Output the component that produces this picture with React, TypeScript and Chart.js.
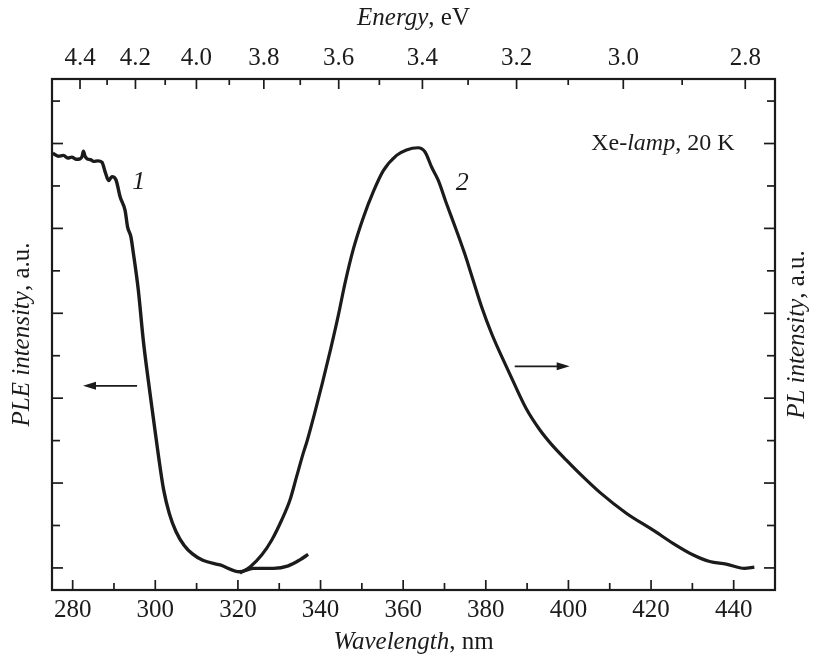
import React, { useEffect, useRef } from 'react';
import { Chart, registerables } from 'chart.js';

Chart.register(...registerables);

// ---------- data ----------
const pleWavelength = [
  275.2, 276.5, 277.8, 278.8, 279.8, 280.8, 281.8, 282.3, 282.6, 283.0, 283.5, 284.3, 285.1, 286.1, 287.1,
  287.9, 288.7, 289.5, 290.5, 291.5, 292.7, 293.3, 294.1, 294.6, 295.9, 297.1, 298.4, 299.6, 300.8, 302.0,
  303.4, 305.0, 307.0, 309.0, 311.5, 315.7, 320.4, 323.7, 328.6, 332.2, 335.0, 337.0,
];
const pleIntensity = [
  9.77, 9.70, 9.72, 9.66, 9.68, 9.63, 9.64, 9.70, 9.82, 9.70, 9.64, 9.62, 9.58, 9.59, 9.56,
  9.32, 9.13, 9.22, 9.14, 8.74, 8.42, 8.03, 7.80, 7.48, 6.54, 5.36, 4.35, 3.48, 2.62, 1.85,
  1.28, 0.86, 0.53, 0.33, 0.18, 0.07, -0.09, -0.01, -0.01, 0.05, 0.19, 0.32,
];

const plWavelength = [
  320.5, 323.0, 325.8, 328.2, 330.6, 332.6, 334.2, 335.8, 336.8, 338.5, 340.5, 342.5, 344.3, 345.9,
  347.9, 350.3, 352.8, 355.2, 358.4, 360.8, 363.6, 365.3, 366.9, 368.5, 370.5, 372.9, 374.9, 376.8,
  379.0, 381.5, 384.0, 386.6, 389.8, 393.1, 396.0, 399.5, 403.5, 407.6, 414.0, 420.5, 425.3, 430.1,
  434.2, 438.2, 442.6, 445.0,
];
const plIntensity = [
  -0.12, 0.03, 0.31, 0.66, 1.13, 1.60, 2.15, 2.70, 3.01, 3.62, 4.38, 5.18, 5.95, 6.70,
  7.50, 8.24, 8.87, 9.36, 9.72, 9.85, 9.90, 9.80, 9.44, 9.13, 8.58, 7.95, 7.40, 6.82,
  6.15, 5.50, 4.95, 4.40, 3.75, 3.25, 2.90, 2.54, 2.15, 1.78, 1.29, 0.89, 0.58, 0.31,
  0.15, 0.09, -0.01, 0.02,
];

const wavelengthTicks = [280, 300, 320, 340, 360, 380, 400, 420, 440];
const wavelengthMinorTicks = [290, 310, 330, 350, 370, 390, 410, 430];
const energyTicks = [4.4, 4.2, 4.0, 3.8, 3.6, 3.4, 3.2, 3.0, 2.8];
const energyMinorTicks = [4.3, 4.1, 3.9, 3.7, 3.5, 3.3, 3.1, 2.9];
const intensityTicks = [0, 2, 4, 6, 8, 10];
const intensityMinorTicks = [1, 3, 5, 7, 9, 11];

const HC = 1239.84; // eV*nm
const X_MIN = 275;
const X_MAX = 450;
const Y_MIN = -0.52;
const Y_MAX = 11.52;

const INK = '#1b1b1b';
const SERIF = "'Liberation Serif', 'Times New Roman', serif";
const TICK_FONT = 25;
const TITLE_FONT = 25;

type Part = [string, boolean];

function drawMixed(ctx: CanvasRenderingContext2D, parts: Part[], cx: number, cy: number, size: number, rotate = 0, align = 'center') {
  ctx.save();
  ctx.translate(cx, cy);
  if (rotate) ctx.rotate(rotate);
  let total = 0;
  const widths = parts.map(([t, it]) => {
    ctx.font = `${it ? 'italic ' : ''}${size}px ${SERIF}`;
    const w = ctx.measureText(t).width;
    total += w;
    return w;
  });
  let x = align === 'right' ? -total : -total / 2;
  ctx.textBaseline = 'middle';
  ctx.textAlign = 'left';
  ctx.fillStyle = INK;
  parts.forEach(([t, it], i) => {
    ctx.font = `${it ? 'italic ' : ''}${size}px ${SERIF}`;
    ctx.fillText(t, x, 0);
    x += widths[i];
  });
  ctx.restore();
}

function drawArrow(ctx: CanvasRenderingContext2D, x1: number, y1: number, x2: number, y2: number) {
  const dir = Math.sign(x2 - x1);
  ctx.save();
  ctx.strokeStyle = INK;
  ctx.fillStyle = INK;
  ctx.lineWidth = 1.6;
  ctx.beginPath();
  ctx.moveTo(x1, y1);
  ctx.lineTo(x2 - dir * 8, y2);
  ctx.stroke();
  ctx.beginPath();
  ctx.moveTo(x2, y2);
  ctx.lineTo(x2 - dir * 13, y2 - 4);
  ctx.lineTo(x2 - dir * 13, y2 + 4);
  ctx.closePath();
  ctx.fill();
  ctx.restore();
}

const decorPlugin = {
  id: 'decor',
  afterDraw(chart: any) {
    const ctx: CanvasRenderingContext2D = chart.ctx;
    const { left, right, top, bottom } = chart.chartArea;
    const xs = chart.scales.x;
    const ys = chart.scales.y;
    ctx.save();
    ctx.strokeStyle = INK;

    // inward ticks
    ctx.lineWidth = 1.7;
    const vTick = (px: number, len: number) => {
      ctx.beginPath(); ctx.moveTo(px, bottom); ctx.lineTo(px, bottom - len); ctx.stroke();
    };
    const tTick = (px: number, len: number) => {
      ctx.beginPath(); ctx.moveTo(px, top); ctx.lineTo(px, top + len); ctx.stroke();
    };
    const lTick = (py: number, len: number) => {
      ctx.beginPath(); ctx.moveTo(left, py); ctx.lineTo(left + len, py); ctx.stroke();
      ctx.beginPath(); ctx.moveTo(right, py); ctx.lineTo(right - len, py); ctx.stroke();
    };
    wavelengthTicks.forEach((v) => vTick(xs.getPixelForValue(v), 10));
    wavelengthMinorTicks.forEach((v) => vTick(xs.getPixelForValue(v), 7));
    energyTicks.forEach((e) => tTick(xs.getPixelForValue(HC / e), 10));
    energyMinorTicks.forEach((e) => tTick(xs.getPixelForValue(HC / e), 6));
    intensityTicks.forEach((v) => lTick(ys.getPixelForValue(v), 11));
    intensityMinorTicks.forEach((v) => lTick(ys.getPixelForValue(v), 8));

    // frame
    ctx.lineWidth = 2.2;
    ctx.strokeRect(left, top, right - left, bottom - top);

    // arrows
    drawArrow(ctx, xs.getPixelForValue(295.6), ys.getPixelForValue(4.29), xs.getPixelForValue(282.5), ys.getPixelForValue(4.29));
    drawArrow(ctx, xs.getPixelForValue(387.0), ys.getPixelForValue(4.75), xs.getPixelForValue(400.3), ys.getPixelForValue(4.75));

    // curve labels
    drawMixed(ctx, [['1', true]], xs.getPixelForValue(296.0), ys.getPixelForValue(9.09), 26);
    drawMixed(ctx, [['2', true]], xs.getPixelForValue(374.3), ys.getPixelForValue(9.06), 26);
    drawMixed(ctx, [['Xe-', false], ['lamp', true], [', 20 K', false]],
      xs.getPixelForValue(440.2), ys.getPixelForValue(10.0), 24, 0, 'right');

    // axis titles
    const cx = (left + right) / 2;
    const cy = (top + bottom) / 2;
    drawMixed(ctx, [['Energy', true], [', eV', false]], cx, 18, TITLE_FONT);
    drawMixed(ctx, [['Wavelength', true], [', nm', false]], cx, 642, TITLE_FONT);
    drawMixed(ctx, [['PLE intensity', true], [', a.u.', false]], 22, cy, TITLE_FONT, -Math.PI / 2);
    drawMixed(ctx, [['PL intensity', true], [', a.u.', false]], 797, cy, TITLE_FONT, -Math.PI / 2);
    ctx.restore();
  },
};

export default function App() {
  const ref = useRef<HTMLCanvasElement | null>(null);

  useEffect(() => {
    if (!ref.current) return;
    const ple = pleWavelength.map((x, i) => ({ x, y: pleIntensity[i] }));
    const pl = plWavelength.map((x, i) => ({ x, y: plIntensity[i] }));
    const chart = new Chart(ref.current, {
      type: 'line',
      data: {
        datasets: [
          {
            label: 'PLE',
            data: ple,
            borderColor: INK,
            borderWidth: 3.4,
            pointRadius: 0,
            cubicInterpolationMode: 'monotone',
            yAxisID: 'y',
            xAxisID: 'x',
          },
          {
            label: 'PL',
            data: pl,
            borderColor: INK,
            borderWidth: 3.2,
            pointRadius: 0,
            cubicInterpolationMode: 'monotone',
            yAxisID: 'y2',
            xAxisID: 'x',
          },
        ],
      },
      options: {
        animation: false,
        responsive: false,
        devicePixelRatio: 1,
        layout: { padding: 0 },
        plugins: { legend: { display: false }, tooltip: { enabled: false } },
        scales: {
          x: {
            type: 'linear',
            position: 'bottom',
            min: X_MIN,
            max: X_MAX,
            grid: { display: false, drawTicks: false },
            border: { display: false },
            afterBuildTicks: (s: any) => { s.ticks = wavelengthTicks.map((v) => ({ value: v })); },
            afterFit: (s: any) => { s.height = 69; },
            ticks: {
              padding: 5,
              color: INK,
              font: { family: SERIF, size: TICK_FONT },
              maxRotation: 0,
              autoSkip: false,
              callback: (v: any) => String(v),
            },
          },
          x2: {
            type: 'linear',
            position: 'top',
            min: X_MIN,
            max: X_MAX,
            grid: { display: false, drawTicks: false },
            border: { display: false },
            afterBuildTicks: (s: any) => { s.ticks = energyTicks.map((e) => ({ value: HC / e })); },
            afterFit: (s: any) => { s.height = 79; },
            ticks: {
              padding: 6,
              color: INK,
              font: { family: SERIF, size: TICK_FONT },
              maxRotation: 0,
              autoSkip: false,
              callback: (_v: any, i: number) => energyTicks[i].toFixed(1),
            },
          },
          y: {
            type: 'linear',
            position: 'left',
            min: Y_MIN,
            max: Y_MAX,
            grid: { display: false, drawTicks: false },
            border: { display: false },
            ticks: { display: false },
            afterFit: (s: any) => { s.width = 52; },
          },
          y2: {
            type: 'linear',
            position: 'right',
            min: Y_MIN,
            max: Y_MAX,
            grid: { display: false, drawTicks: false },
            border: { display: false },
            ticks: { display: false },
            afterFit: (s: any) => { s.width = 40; },
          },
        },
      } as any,
      plugins: [decorPlugin],
    });
    return () => chart.destroy();
  }, []);

  return (
    <div style={{ position: 'absolute', left: 0, top: 0, width: 815, height: 659, background: '#fff' }}>
      <canvas ref={ref} width={815} height={659} style={{ display: 'block', width: 815, height: 659 }} />
    </div>
  );
}
